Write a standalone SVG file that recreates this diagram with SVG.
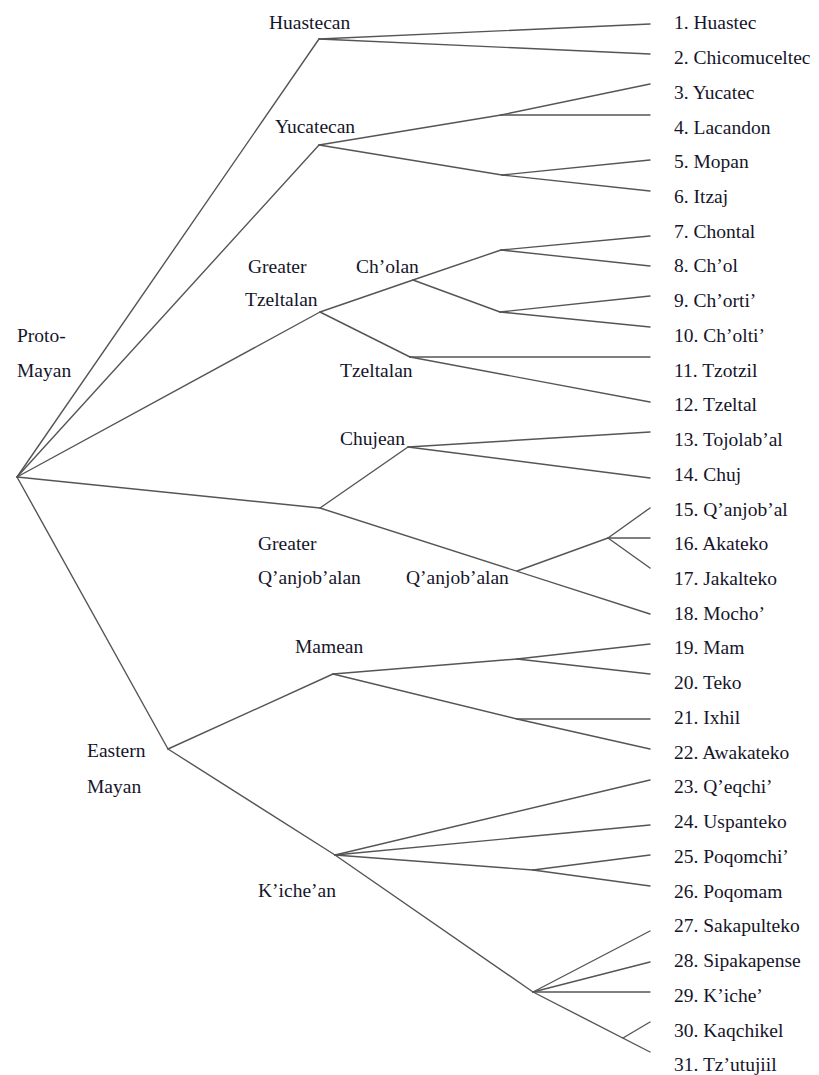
<svg xmlns="http://www.w3.org/2000/svg" width="819" height="1075" viewBox="0 0 819 1075">
<style>
text{font-family:"Liberation Serif","Times New Roman",serif;font-size:19.5px;fill:#15152a}
.c line,.c polyline{stroke:#555;stroke-width:1.4;fill:none;stroke-linecap:round;stroke-linejoin:round}
</style>
<rect width="819" height="1075" fill="#fff"/>
<g class="c" id="connectors">
<!-- root -->
<line x1="17" y1="477" x2="319" y2="39"/>
<line x1="17" y1="477" x2="319" y2="145"/>
<line x1="17" y1="477" x2="320" y2="312"/>
<line x1="17" y1="477" x2="320" y2="508"/>
<line x1="17" y1="477" x2="168" y2="749"/>
<!-- Huastecan -->
<line x1="319" y1="39" x2="650" y2="24"/>
<line x1="319" y1="39" x2="650" y2="54"/>
<!-- Yucatecan -->
<line x1="319" y1="145" x2="501" y2="115"/>
<line x1="501" y1="115" x2="650" y2="84"/>
<line x1="501" y1="115" x2="650" y2="115"/>
<line x1="319" y1="145" x2="502" y2="175"/>
<line x1="502" y1="175" x2="650" y2="160"/>
<line x1="502" y1="175" x2="650" y2="191"/>
<!-- Greater Tzeltalan -->
<line x1="320" y1="312" x2="413" y2="280"/>
<line x1="413" y1="280" x2="501" y2="250"/>
<line x1="501" y1="250" x2="650" y2="236"/>
<line x1="501" y1="250" x2="650" y2="266"/>
<line x1="413" y1="280" x2="500" y2="312"/>
<line x1="500" y1="312" x2="650" y2="296"/>
<line x1="500" y1="312" x2="650" y2="327"/>
<line x1="320" y1="312" x2="410" y2="357"/>
<line x1="410" y1="357" x2="650" y2="357"/>
<line x1="410" y1="357" x2="650" y2="402"/>
<!-- Greater Q'anjob'alan -->
<line x1="320" y1="508" x2="408" y2="447"/>
<line x1="408" y1="447" x2="650" y2="432"/>
<line x1="408" y1="447" x2="650" y2="478"/>
<line x1="320" y1="508" x2="650" y2="614"/>
<line x1="517" y1="571" x2="608" y2="538"/>
<line x1="608" y1="538" x2="650" y2="508"/>
<line x1="608" y1="538" x2="650" y2="538"/>
<line x1="608" y1="538" x2="650" y2="568"/>
<!-- Eastern Mayan -->
<line x1="168" y1="749" x2="333" y2="674"/>
<line x1="333" y1="674" x2="517" y2="659"/>
<line x1="517" y1="659" x2="650" y2="644"/>
<line x1="517" y1="659" x2="650" y2="674"/>
<line x1="333" y1="674" x2="517" y2="719"/>
<line x1="517" y1="719" x2="650" y2="719"/>
<line x1="517" y1="719" x2="650" y2="749"/>
<line x1="168" y1="749" x2="335" y2="855"/>
<line x1="335" y1="855" x2="650" y2="780"/>
<line x1="335" y1="855" x2="650" y2="825"/>
<line x1="335" y1="855" x2="533" y2="870"/>
<line x1="533" y1="870" x2="650" y2="855"/>
<line x1="533" y1="870" x2="650" y2="886"/>
<line x1="335" y1="855" x2="533" y2="992"/>
<line x1="533" y1="992" x2="650" y2="931"/>
<line x1="533" y1="992" x2="650" y2="962"/>
<line x1="533" y1="992" x2="650" y2="992"/>
<line x1="533" y1="992" x2="650" y2="1052"/>
<line x1="623" y1="1038" x2="650" y2="1022"/>
</g>
<g id="n-proto"><text x="17" y="342">Proto-</text><text x="17" y="377">Mayan</text></g>
<g id="n-huastecan"><text x="269" y="29">Huastecan</text></g>
<g id="n-yucatecan"><text x="275" y="133">Yucatecan</text></g>
<g id="n-gtzeltalan"><text x="248" y="273">Greater</text><text x="245" y="306">Tzeltalan</text></g>
<g id="n-cholan"><text x="356" y="273">Ch’olan</text></g>
<g id="n-tzeltalan"><text x="340" y="377">Tzeltalan</text></g>
<g id="n-chujean"><text x="340" y="445">Chujean</text></g>
<g id="n-gqanjobalan"><text x="258" y="550">Greater</text><text x="258" y="584">Q’anjob’alan</text></g>
<g id="n-qanjobalan"><text x="406" y="584">Q’anjob’alan</text></g>
<g id="n-mamean"><text x="295" y="653">Mamean</text></g>
<g id="n-eastern"><text x="87" y="757">Eastern</text><text x="87" y="793">Mayan</text></g>
<g id="n-kichean"><text x="258" y="897">K’iche’an</text></g>
<g id="leaves">
<text x="674" y="29.3">1. Huastec</text>
<text x="674" y="64">2. Chicomuceltec</text>
<text x="674" y="98.8">3. Yucatec</text>
<text x="674" y="133.5">4. Lacandon</text>
<text x="674" y="168.2">5. Mopan</text>
<text x="674" y="203">6. Itzaj</text>
<text x="674" y="237.7">7. Chontal</text>
<text x="674" y="272.4">8. Ch’ol</text>
<text x="674" y="307.1">9. Ch’orti’</text>
<text x="674" y="341.9">10. Ch’olti’</text>
<text x="674" y="376.6">11. Tzotzil</text>
<text x="674" y="411.3">12. Tzeltal</text>
<text x="674" y="446.1">13. Tojolab’al</text>
<text x="674" y="480.8">14. Chuj</text>
<text x="674" y="515.5">15. Q’anjob’al</text>
<text x="674" y="550.3">16. Akateko</text>
<text x="674" y="585">17. Jakalteko</text>
<text x="674" y="619.7">18. Mocho’</text>
<text x="674" y="654.4">19. Mam</text>
<text x="674" y="689.2">20. Teko</text>
<text x="674" y="723.9">21. Ixhil</text>
<text x="674" y="758.6">22. Awakateko</text>
<text x="674" y="793.4">23. Q’eqchi’</text>
<text x="674" y="828.1">24. Uspanteko</text>
<text x="674" y="862.8">25. Poqomchi’</text>
<text x="674" y="897.5">26. Poqomam</text>
<text x="674" y="932.3">27. Sakapulteko</text>
<text x="674" y="967">28. Sipakapense</text>
<text x="674" y="1001.7">29. K’iche’</text>
<text x="674" y="1036.5">30. Kaqchikel</text>
<text x="674" y="1071.2">31. Tz’utujiil</text>
</g>
</svg>
